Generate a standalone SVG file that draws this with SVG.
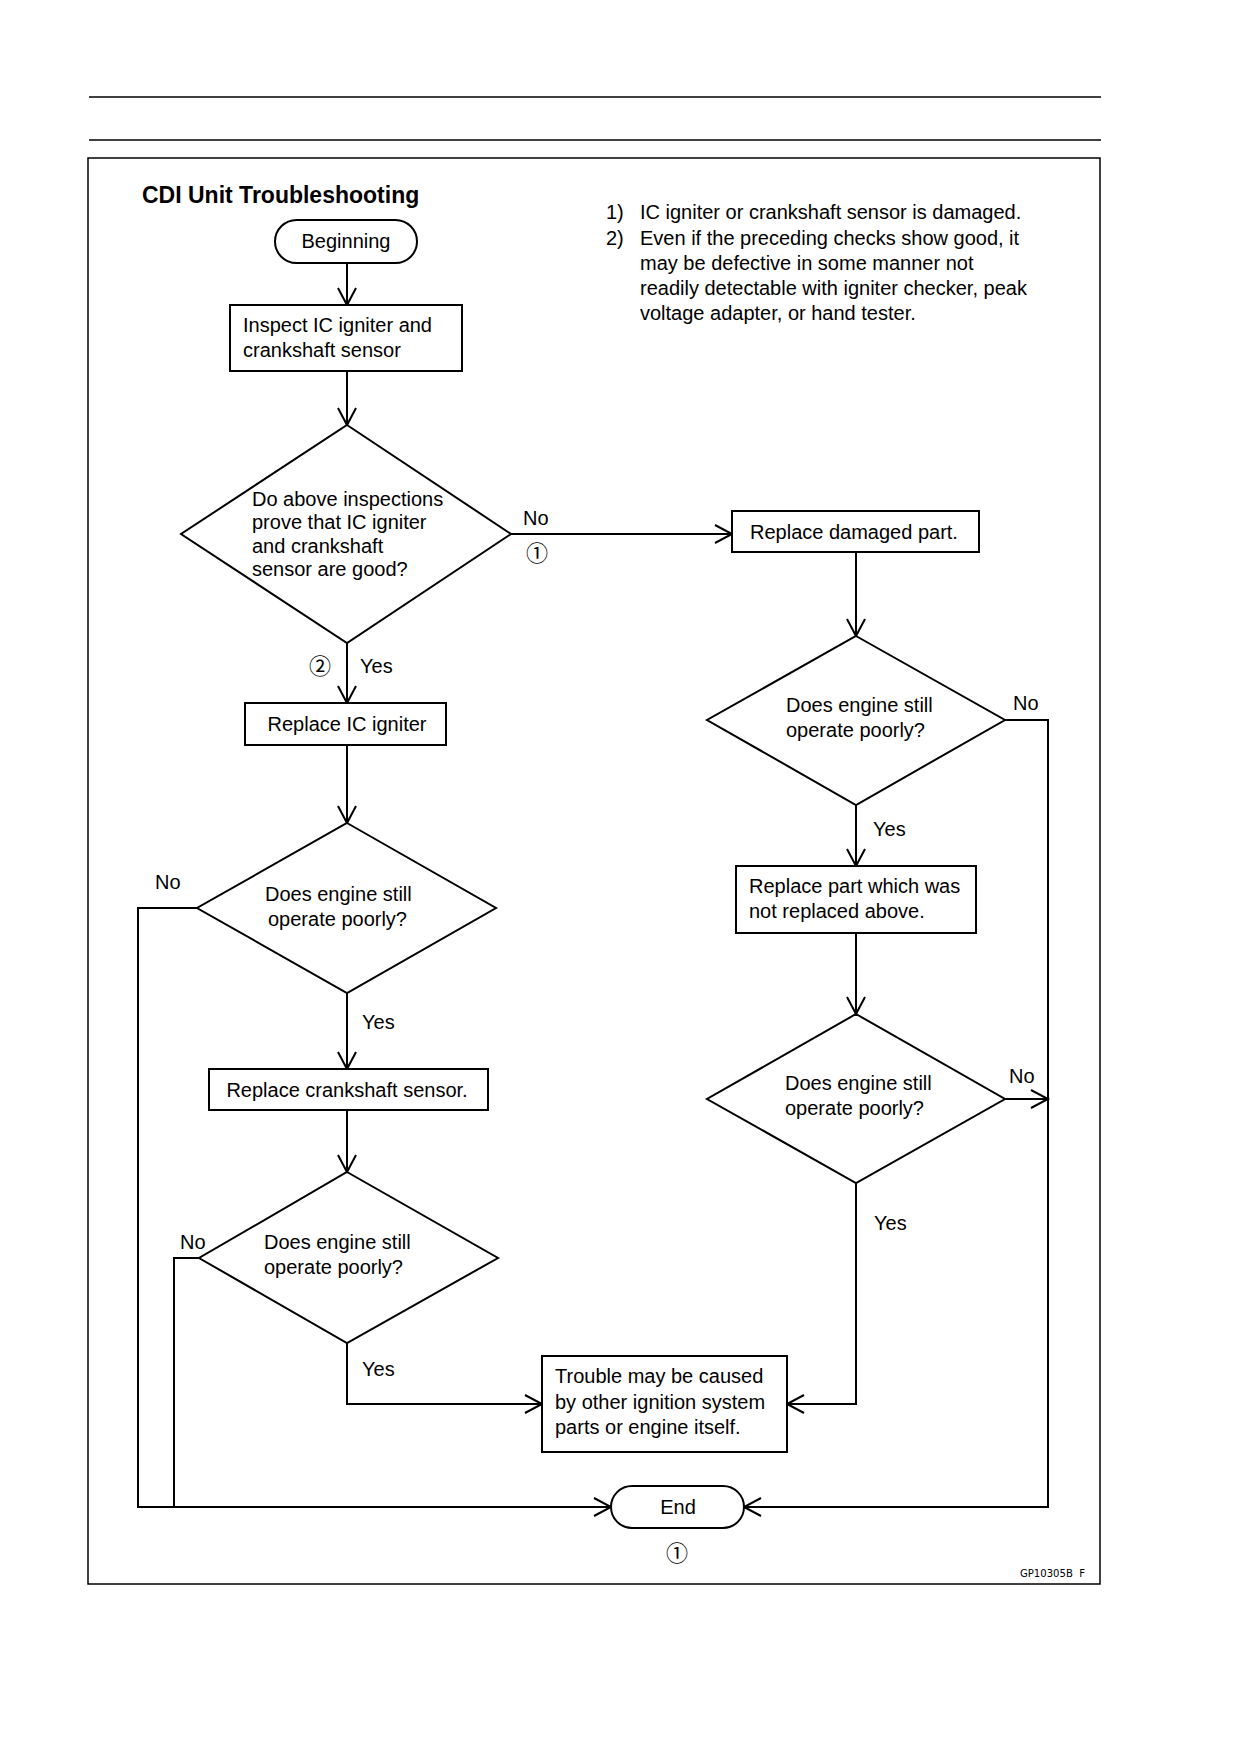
<svg xmlns="http://www.w3.org/2000/svg" width="1240" height="1754" viewBox="0 0 1240 1754">
<style>
.t{font-family:"Liberation Sans",Arial,sans-serif;font-size:20px;fill:#000}
.b{font-family:"Liberation Sans",Arial,sans-serif;font-size:23px;font-weight:bold;fill:#000}
.c{font-family:"Noto Sans CJK JP","Liberation Sans",sans-serif;font-size:22px;fill:#000}
.s{fill:#fff;stroke:#000;stroke-width:2}
.l{fill:none;stroke:#000;stroke-width:2}
.m{text-anchor:middle}
</style>
<defs>
<marker id="arr" markerUnits="userSpaceOnUse" markerWidth="22" markerHeight="22" viewBox="-19 -11 22 22" refX="0" refY="0" orient="auto" overflow="visible">
<path d="M-17,-9 L0,0 L-17,9" fill="none" stroke="#000" stroke-width="2"/>
</marker>
</defs>
<rect width="1240" height="1754" fill="#fff"/>
<line x1="89" y1="97" x2="1101" y2="97" stroke="#000" stroke-width="1.5"/>
<line x1="89" y1="140" x2="1101" y2="140" stroke="#000" stroke-width="1.5"/>
<rect x="88" y="158" width="1012" height="1426" fill="none" stroke="#000" stroke-width="1.5"/>
<text class="b" x="142" y="203">CDI Unit Troubleshooting</text>
<g id="notes" class="t">
<text x="606" y="219">1)</text><text x="640" y="219">IC igniter or crankshaft sensor is damaged.</text>
<text x="606" y="245">2)</text><text x="640" y="245">Even if the preceding checks show good, it</text>
<text x="640" y="270">may be defective in some manner not</text>
<text x="640" y="295">readily detectable with igniter checker, peak</text>
<text x="640" y="320">voltage adapter, or hand tester.</text>
</g>
<g id="connectors" class="l">
<path d="M347,263 V305" marker-end="url(#arr)"/>
<path d="M347,371 V425" marker-end="url(#arr)"/>
<path d="M347,643 V703" marker-end="url(#arr)"/>
<path d="M347,745 V823" marker-end="url(#arr)"/>
<path d="M347,993 V1069" marker-end="url(#arr)"/>
<path d="M347,1110 V1172" marker-end="url(#arr)"/>
<path d="M347,1343 V1404 H542" marker-end="url(#arr)"/>
<path d="M197,908 H138 V1507 H611" marker-end="url(#arr)"/>
<path d="M199,1258 H174 V1507"/>
<path d="M511,534 H732" marker-end="url(#arr)"/>
<path d="M856,552 V636" marker-end="url(#arr)"/>
<path d="M856,805 V866" marker-end="url(#arr)"/>
<path d="M856,933 V1014" marker-end="url(#arr)"/>
<path d="M856,1183 V1404 H787" marker-end="url(#arr)"/>
<path d="M1005,720 H1048 V1507 H744" marker-end="url(#arr)"/>
<path d="M1005,1099 H1048" marker-end="url(#arr)"/>
</g>
<g id="labels" class="t">
<text x="523" y="525">No</text>
<text class="c m" x="537" y="561">①</text>
<text class="c m" x="320" y="674">②</text>
<text x="360" y="673">Yes</text>
<text x="155" y="889">No</text>
<text x="362" y="1029">Yes</text>
<text x="180" y="1249">No</text>
<text x="362" y="1376">Yes</text>
<text x="1013" y="710">No</text>
<text x="873" y="836">Yes</text>
<text x="1009" y="1083">No</text>
<text x="874" y="1230">Yes</text>
<text class="c m" x="677" y="1561">①</text>
</g>
<g id="begin"><rect class="s" x="275" y="220" width="142" height="43" rx="21.5"/><text class="t m" x="346" y="248">Beginning</text></g>
<g id="inspect"><rect class="s" x="230" y="305" width="232" height="66"/><text class="t" x="243" y="332">Inspect IC igniter and</text><text class="t" x="243" y="357">crankshaft sensor</text></g>
<g id="d1"><polygon class="s" points="347,425 511,534 347,643 181,534"/>
<text class="t" x="252" y="506">Do above inspections</text><text class="t" x="252" y="529">prove that IC igniter</text><text class="t" x="252" y="553">and crankshaft</text><text class="t" x="252" y="576">sensor are good?</text></g>
<g id="replaceDamaged"><rect class="s" x="732" y="511" width="247" height="41"/><text class="t" x="750" y="539">Replace damaged part.</text></g>
<g id="replaceIC"><rect class="s" x="245" y="703" width="201" height="42"/><text class="t m" x="347" y="731">Replace IC igniter</text></g>
<g id="d2"><polygon class="s" points="347,823 496,908 347,993 197,908"/><text class="t" x="265" y="901">Does engine still</text><text class="t" x="268" y="926">operate poorly?</text></g>
<g id="replaceCrank"><rect class="s" x="209" y="1069" width="279" height="41"/><text class="t m" x="347" y="1097">Replace crankshaft sensor.</text></g>
<g id="d3"><polygon class="s" points="347,1172 498,1258 347,1343 199,1258"/><text class="t" x="264" y="1249">Does engine still</text><text class="t" x="264" y="1274">operate poorly?</text></g>
<g id="d4"><polygon class="s" points="856,636 1005,720 856,805 707,720"/><text class="t" x="786" y="712">Does engine still</text><text class="t" x="786" y="737">operate poorly?</text></g>
<g id="replacePart"><rect class="s" x="736" y="866" width="240" height="67"/><text class="t" x="749" y="893">Replace part which was</text><text class="t" x="749" y="918">not replaced above.</text></g>
<g id="d5"><polygon class="s" points="856,1014 1005,1099 856,1183 707,1099"/><text class="t" x="785" y="1090">Does engine still</text><text class="t" x="785" y="1115">operate poorly?</text></g>
<g id="trouble"><rect class="s" x="542" y="1356" width="245" height="96"/><text class="t" x="555" y="1383">Trouble may be caused</text><text class="t" x="555" y="1409">by other ignition system</text><text class="t" x="555" y="1434">parts or engine itself.</text></g>
<g id="end"><rect class="s" x="611" y="1486" width="133" height="42" rx="21"/><text class="t m" x="678" y="1514">End</text></g>
<text x="1020" y="1577" font-family="'DejaVu Sans Condensed','Liberation Sans',sans-serif" font-size="11" textLength="65" lengthAdjust="spacingAndGlyphs">GP10305B&#160;&#160;F</text>
</svg>
